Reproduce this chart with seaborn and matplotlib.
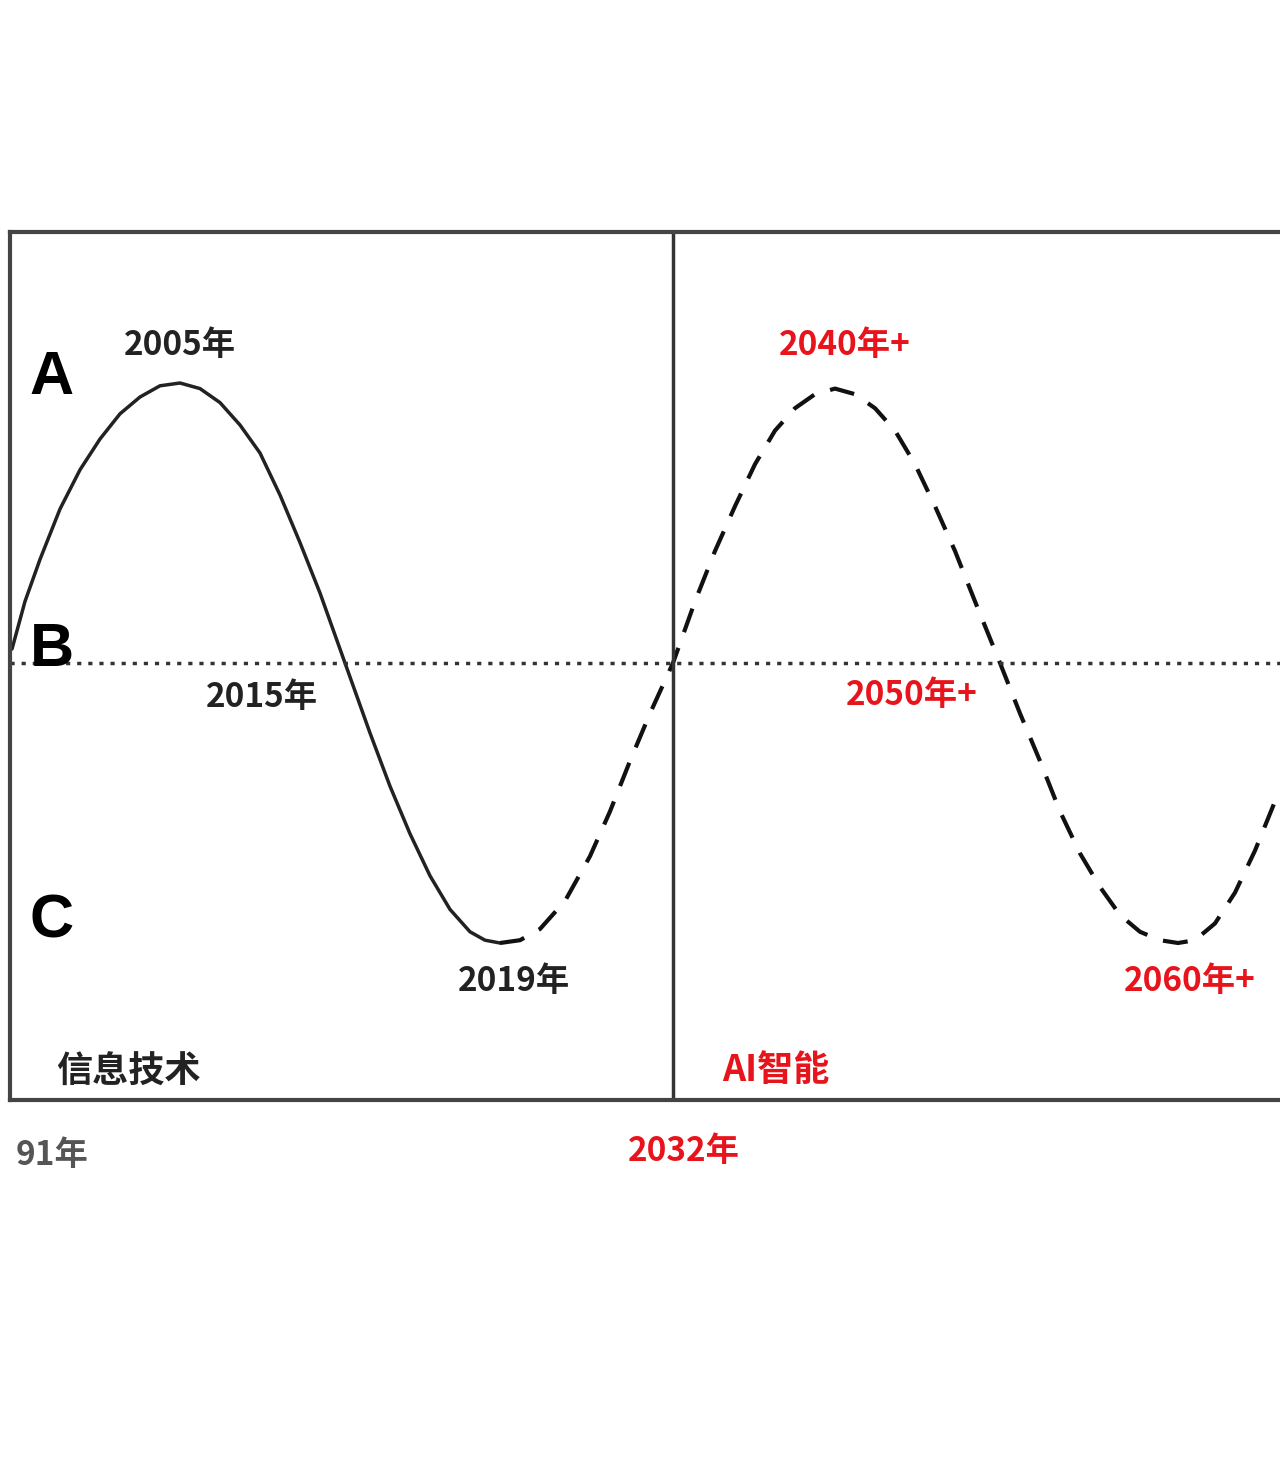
import numpy as np
import pandas as pd
import matplotlib
matplotlib.use('Agg')
import matplotlib.pyplot as plt
import seaborn as sns

sns.set_style('white')
plt.rcParams['font.family'] = ['Noto Sans CJK SC', 'DejaVu Sans']

# 曲线读数（横向位置，纵向水平：B=0, A≈1, C≈-1）
solid_x = [12, 25, 40, 60, 80, 100, 120, 140, 160, 180, 200, 220, 240, 260, 280,
           300, 320, 345, 370, 390, 410, 430, 450, 470, 485, 500]
solid_y = [0.05, 0.22, 0.37, 0.55, 0.69, 0.80, 0.89, 0.95, 0.99, 1.0, 0.98, 0.93,
           0.85, 0.75, 0.60, 0.43, 0.25, 0.0, -0.25, -0.44, -0.61, -0.76, -0.88,
           -0.96, -0.99, -1.0]
dash_x = [500, 520, 540, 565, 590, 610, 630, 650, 673, 695, 715, 735, 755, 775,
          795, 815, 835, 855, 875, 895, 915, 935, 955, 975, 1000, 1020, 1040,
          1060, 1080, 1100, 1120, 1140, 1160, 1178, 1195, 1215, 1235, 1255, 1280]
dash_y = [-1.0, -0.99, -0.95, -0.85, -0.69, -0.53, -0.35, -0.18, 0.0, 0.22, 0.40,
          0.56, 0.71, 0.83, 0.91, 0.96, 0.98, 0.96, 0.91, 0.83, 0.71, 0.56, 0.40,
          0.22, 0.0, -0.18, -0.35, -0.53, -0.68, -0.80, -0.90, -0.96, -0.99, -1.0,
          -0.99, -0.93, -0.82, -0.67, -0.45]

black_labels = [('2005年', 180, 345), ('2015年', 262, 698), ('2019年', 514, 982)]
red_labels = [('2040年+', 845, 345), ('2050年+', 912, 695), ('2060年+', 1190, 982)]
levels = ['A', 'B', 'C']
level_pos = [378, 650, 922]

fig = plt.figure(figsize=(12.8, 14.82), dpi=100)
ax = fig.add_axes([10 / 1280, 1 - 1100 / 1482, 1270 / 1280, 868 / 1482])

sns.lineplot(x=solid_x, y=solid_y, color='#222222', lw=2.5, ax=ax)
sns.lineplot(x=dash_x, y=dash_y, color='#111111', lw=3, ax=ax)
ax.lines[-1].set_dashes([6, 4])
ax.axhline(0, color='#333333', lw=2.5, ls=(0, (1.2, 2)))
ax.axvline(673, color='#333333', lw=2.5)

ax.set_xlim(10, 1280)
ax.set_ylim((663 - 1100) / 280, (663 - 232) / 280)
ax.set_xticks([])
ax.set_yticks([])
for side in ['top', 'bottom', 'left']:
    ax.spines[side].set_color('#444444')
    ax.spines[side].set_linewidth(3)
ax.spines['right'].set_visible(False)

def ftext(s, x, y, **kw):
    fig.text(x / 1280, 1 - y / 1482, s, ha='center', va='center', **kw)

for s, x, y in black_labels:
    ftext(s, x, y, fontsize=24, fontweight='bold', color='#222222')
for s, x, y in red_labels:
    ftext(s, x, y, fontsize=24, fontweight='bold', color='#e8141c')
for s, y in zip(levels, level_pos):
    ftext(s, 52, y, fontsize=44, fontweight='bold', color='black', family='Liberation Sans')
ftext('信息技术', 128, 1072, fontsize=26, fontweight='bold', color='#222222')
ftext('AI智能', 776, 1070, fontsize=26, fontweight='bold', color='#e8141c')
ftext('91年', 52, 1155, fontsize=24, fontweight='bold', color='#555555')
ftext('2032年', 684, 1152, fontsize=24, fontweight='bold', color='#e8141c')

fig.savefig('out.png', dpi=100)
